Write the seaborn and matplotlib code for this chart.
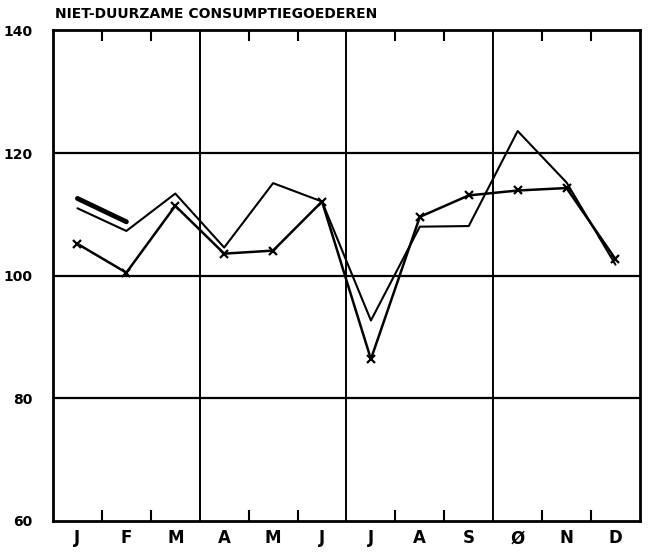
import numpy as np
import pandas as pd
import matplotlib
matplotlib.use("Agg")
import matplotlib.pyplot as plt
import seaborn as sns

months = ["J", "F", "M", "A", "M", "J", "J", "A", "S", "Ø", "N", "D"]
serie_kruis = [105.2, 100.5, 111.4, 103.6, 104.1, 112.1, 86.4, 109.6, 113.1, 113.9, 114.3, 102.7]
serie_lijn = [111.0, 107.3, 113.4, 104.6, 115.1, 112.1, 92.7, 108.0, 108.1, 123.6, 115.2, 101.8]
serie_dik = [112.6, 108.8]
yticks = [60, 80, 100, 120, 140]

sns.set_style("white")
plt.rcParams["font.family"] = ["DejaVu Sans"]
plt.rcParams["text.color"] = "black"
plt.rcParams["xtick.color"] = "black"
plt.rcParams["ytick.color"] = "black"

pos = np.arange(len(months)) + 0.5
df = pd.DataFrame({"pos": pos, "kruis": serie_kruis, "lijn": serie_lijn})
df_dik = pd.DataFrame({"pos": pos[:len(serie_dik)], "dik": serie_dik})

fig = plt.figure(figsize=(6.51, 5.53), dpi=100)
ax = fig.add_axes([0.0814, 0.0579, 0.9016, 0.887])

for g in [80, 100, 120]:
    ax.axhline(g, color="black", lw=1.6, zorder=1)
for g in [3, 6, 9]:
    ax.axvline(g, color="black", lw=1.4, zorder=1)

sns.lineplot(data=df, x="pos", y="lijn", ax=ax, color="black", lw=1.5, zorder=3)
sns.lineplot(data=df, x="pos", y="kruis", ax=ax, color="black", lw=1.8,
             marker="x", markersize=6, markeredgewidth=1.6,
             markeredgecolor="black", zorder=4)
sns.lineplot(data=df_dik, x="pos", y="dik", ax=ax, color="black", lw=3.5, zorder=4)

ax.set_xlim(0, 12)
ax.set_ylim(60, 140)
ax.set_xticks(pos)
ax.set_xticklabels(months, fontsize=12, fontweight="bold")
ax.set_xticks([i for i in range(1, 12) if i not in (3, 6, 9)], minor=True)
ax.tick_params(axis="x", which="major", length=0, pad=6)
ax.tick_params(axis="x", which="minor", direction="in", length=8, width=1.5,
               top=True, bottom=True)
ax.set_yticks(yticks)
ax.set_yticklabels([str(v) for v in yticks], fontsize=10, fontweight="bold")
ax.tick_params(axis="y", length=0, pad=15)
ax.set_xlabel("")
ax.set_ylabel("")
for s in ax.spines.values():
    s.set_linewidth(2)
    s.set_color("black")

fig.text(0.0845, 0.962, "NIET-DUURZAME CONSUMPTIEGOEDEREN", fontsize=10,
         fontweight="bold", ha="left", va="bottom", color="black")

fig.savefig("out.png", dpi=100)
plt.close(fig)
